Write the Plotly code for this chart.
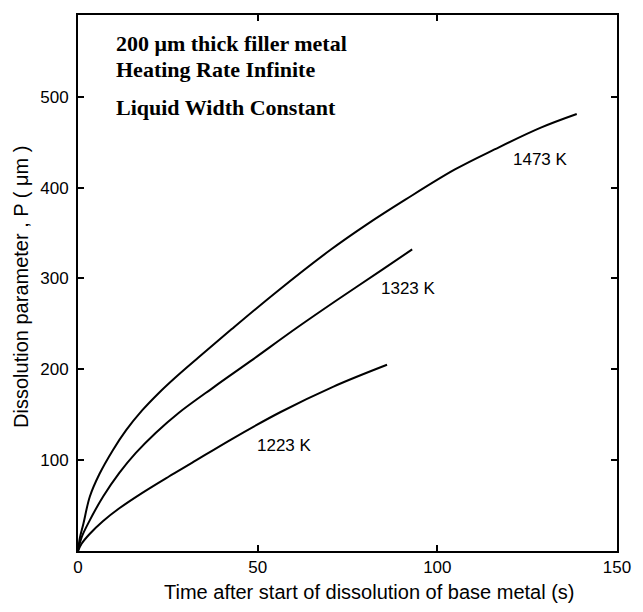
import plotly.graph_objects as go

# Data
t_1473 = [0, 0.5, 1.5, 3.3, 6.0, 9.7, 13.4, 17.9, 22.5, 27.1, 33.5, 42.7, 55.5, 70.1, 80.2, 91.2, 104.9, 115.9, 128.8, 138.8]
p_1473 = [0, 14, 30, 60, 85, 111, 133, 155, 174, 191, 213, 244, 286, 331, 359, 387, 420, 442, 466, 481]

t_1323 = [0, 1.0, 3.3, 7.0, 11.5, 16.1, 21.6, 28.0, 38.0, 48.0, 61.0, 72.0, 84.8, 93.0]
p_1323 = [0, 15, 34, 60, 86, 108, 130, 152, 181, 209, 246, 276, 310, 332]

t_1223 = [0, 1.0, 3.3, 7.0, 11.5, 17.9, 25.3, 31.7, 42.7, 56.4, 71.1, 86.0]
p_1223 = [0, 8, 19, 33, 47, 64, 82, 97, 123, 153, 181, 205]

curve_labels = ["1473 K", "1323 K", "1223 K"]
label_x = [128.8, 92.0, 57.6]
label_y = [431, 289, 116]

x_ticks = [0, 50, 100, 150]
y_ticks = [100, 200, 300, 400, 500]

info_lines = ["200 \u03bcm thick filler metal", "Heating Rate Infinite", "Liquid Width Constant"]
info_y = [559, 530, 488]

x_title = "Time after start of dissolution of base metal (s)"
y_title = "Dissolution parameter , P ( \u03bcm )"

SANS = "Liberation Sans, Arial, sans-serif"
SERIF = "Liberation Serif, Times New Roman, serif"

fig = go.Figure()
for t, p in [(t_1473, p_1473), (t_1323, p_1323), (t_1223, p_1223)]:
    fig.add_trace(go.Scatter(x=t, y=p, mode="lines",
                             line=dict(color="black", width=2, shape="spline", smoothing=1.0),
                             showlegend=False, hoverinfo="skip"))

for txt, lx, ly in zip(curve_labels, label_x, label_y):
    fig.add_annotation(x=lx, y=ly, text=txt, showarrow=False,
                       font=dict(family=SANS, size=17, color="black"))

for txt, iy in zip(info_lines, info_y):
    fig.add_annotation(x=10.0, y=iy, text="<b>" + txt + "</b>", showarrow=False,
                       xanchor="left", yanchor="middle",
                       font=dict(family=SERIF, size=22, color="black"))

fig.add_annotation(xref="paper", yref="paper", x=0.54, y=-0.0765, text=x_title,
                   xanchor="center", yanchor="middle",
                   showarrow=False, font=dict(family=SANS, size=20, color="black"))
fig.add_annotation(xref="paper", yref="paper", x=-0.106, y=0.4925, text=y_title,
                   xanchor="center", yanchor="middle",
                   textangle=-90, showarrow=False, font=dict(family=SANS, size=20, color="black"))

axis_common = dict(showgrid=False, zeroline=False, showline=True, linecolor="black",
                   linewidth=2, mirror="ticks", ticks="inside", ticklen=6, tickwidth=1.5,
                   tickcolor="black", tickfont=dict(family=SANS, size=17, color="black"))

fig.update_xaxes(range=[0, 150], tickvals=x_ticks, ticktext=[str(v) for v in x_ticks],
                 ticklabelstandoff=0, **axis_common)
fig.update_yaxes(range=[0, 590], tickvals=y_ticks, ticktext=[str(v) for v in y_ticks],
                 ticklabelstandoff=4, **axis_common)

fig.update_layout(width=643, height=612, margin=dict(l=78, r=19, t=15, b=61),
                  plot_bgcolor="white", paper_bgcolor="white")

fig.write_html("out.html")
